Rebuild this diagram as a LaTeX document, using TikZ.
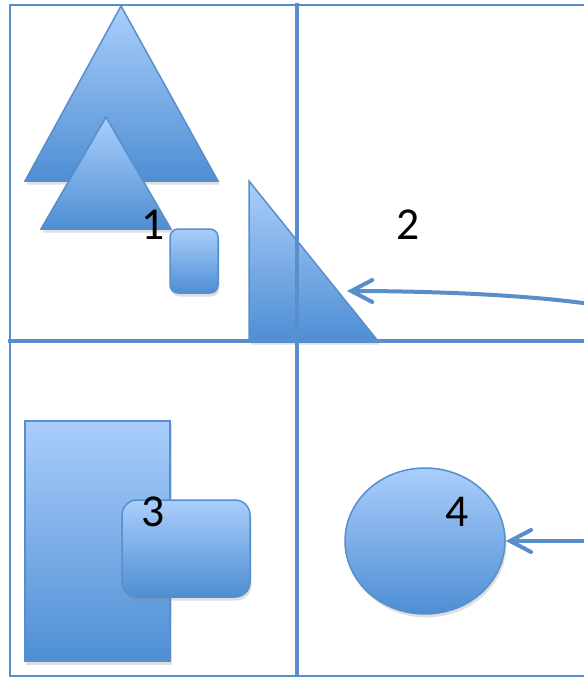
\documentclass[tikz,border=0pt]{standalone}
\usepackage{fontspec}
\usepackage{xcolor}
\usepackage{tikz}
\newfontfamily\lblfont{Carlito}
\usetikzlibrary{shapes.geometric, arrows.meta, positioning, shadows}
\definecolor{paneline}{RGB}{88,142,202}
\definecolor{filltop}{RGB}{170,206,251}
\definecolor{fillbot}{RGB}{78,142,212}
\tikzset{
  pane/.style={draw=paneline, line width=0.045cm},
  divider/.style={draw=paneline, line width=0.095cm},
  solid shape/.style={draw=paneline, line width=0.03cm, top color=filltop, bottom color=fillbot,
    drop shadow={shadow xshift=0.03cm, shadow yshift=-0.07cm, opacity=0.25}},
  tag/.style={font=\lblfont\fontsize{26}{30}\selectfont, inner sep=0pt},
  pointer/.style={draw=paneline, line width=0.08cm, line cap=round,
    -{Straight Barb[length=0.42cm, width=0.44cm, line cap=round]}},
}
\begin{document}
\begin{tikzpicture}[x=0.02cm, y=-0.02cm]
  \useasboundingbox (0,0) rectangle (583,677);
  % frame
  \fill[white] (0,0) rectangle (583,677);
  \draw[pane] (590,5) -- (10,5) -- (10,676) -- (590,676);
  % quadrant 1
  \path[solid shape] (25,181) -- (121,6) -- (218,181) -- cycle;
  \path[solid shape] (41,229) -- (106,117) -- (171,229) -- cycle;
  \path[solid shape, rounded corners=0.16cm] (170,229) rectangle (218,293);
  \path[solid shape] (249,181) -- (249,341) -- (378,341) -- cycle;
  \coordinate (tritip) at (347,291);
  % quadrant 3
  \path[solid shape] (25,421) rectangle (170,661);
  \path[solid shape, rounded corners=0.3cm] (122,500) rectangle (250,597);
  % quadrant 4
  \node[solid shape, ellipse, minimum width=3.2cm, minimum height=2.92cm, inner sep=0pt] (circ) at (425,541) {};
  % dividers
  \draw[divider] (297,3) -- (297,680);
  \draw[divider] (8,341) -- (590,341);
  % labels
  \node[tag] (one) at (153,225) {1};
  \node[tag] (two) at (408,225) {2};
  \node[tag] (three) at (153,512) {3};
  \node[tag] (four) at (457,512) {4};
  % arrows
  \coordinate (rightA) at (590,304);
  \coordinate (rightB) at (590,541);
  \draw[pointer] (rightA) .. controls (520,294) and (420,291) .. (tritip);
  \draw[pointer] (rightB) -- (circ.east);
\end{tikzpicture}
\end{document}
